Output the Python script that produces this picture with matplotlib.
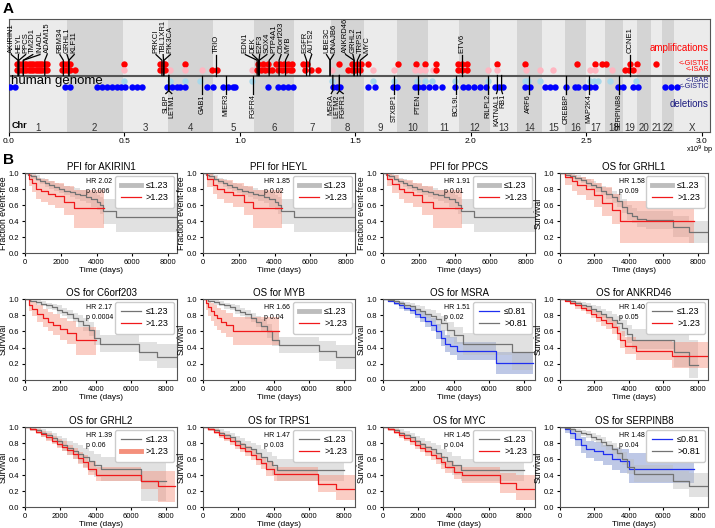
import numpy as np
import matplotlib.pyplot as plt
from matplotlib.lines import Line2D

plt.rcParams['font.family'] = ['Liberation Sans', 'DejaVu Sans']

# ---------------- panel A data ----------------
chrom_names = [str(i) for i in range(1, 23)] + ['X']
chrom_mb = [249.25, 243.20, 198.02, 191.15, 180.92, 171.12, 159.14, 146.36,
            141.21, 135.53, 135.01, 133.85, 115.17, 107.35, 102.53, 90.35,
            81.20, 78.08, 59.13, 63.03, 48.13, 51.30, 155.27]

# genome coordinate (x10^9 bp) of called regions
amp_gistic = [0.035, 0.045, 0.055, 0.065, 0.075, 0.085, 0.095, 0.105, 0.115, 0.125,
              0.135, 0.145, 0.155, 0.165, 0.229, 0.240, 0.252, 0.264, 0.498, 0.654,
              0.667, 0.675, 0.762, 1.078, 1.100, 1.121, 1.156, 1.173, 1.190, 1.208,
              1.225, 1.273, 1.290, 1.429, 1.485, 1.506, 1.524, 1.554, 1.684, 1.762,
              1.803, 1.851, 1.944, 1.961, 1.983, 2.113, 2.234, 2.459, 2.537, 2.567,
              2.584, 2.688, 2.719, 2.801]
amp_isar_hit = [0.035, 0.045, 0.055, 0.065, 0.075, 0.085, 0.095, 0.105, 0.115, 0.125,
                0.135, 0.145, 0.155, 0.165, 0.229, 0.240, 0.252, 0.264, 0.286, 0.654,
                0.667, 0.675, 0.879, 0.900, 1.074, 1.091, 1.108, 1.126, 1.139, 1.165,
                1.182, 1.199, 1.216, 1.225, 1.281, 1.307, 1.338, 1.468, 1.485, 1.500,
                1.519, 1.851, 1.944, 1.961, 1.983, 2.667, 2.684, 2.701]
amp_isar = [0.498, 0.697, 0.762, 0.835, 1.052, 1.398, 1.576, 1.667, 1.758, 1.779,
            1.801, 1.835, 2.074, 2.113, 2.238, 2.299, 2.355, 2.515, 2.537, 2.610, 2.719]
del_isar = [0.498, 0.697, 0.762, 0.827, 1.052, 1.398, 1.576, 1.667, 1.766, 1.801,
            1.831, 1.931, 2.074, 2.234, 2.247, 2.299, 2.515, 2.532, 2.550, 2.602, 2.714]
del_gistic = [0.004, 0.026, 0.242, 0.264, 0.381, 0.403, 0.424, 0.446, 0.468, 0.485,
              0.502, 0.532, 0.554, 0.576, 0.684, 0.706, 0.727, 0.740, 0.762, 0.857,
              0.883, 0.926, 0.948, 0.970, 0.978, 1.121, 1.165, 1.186, 1.208, 1.229,
              1.403, 1.420, 1.433, 1.554, 1.584, 1.662, 1.680, 1.758, 1.771, 1.792,
              1.818, 1.844, 1.874, 1.931, 1.965, 1.987, 2.013, 2.039, 2.065, 2.104,
              2.121, 2.139, 2.234, 2.255, 2.320, 2.342, 2.364, 2.411, 2.450, 2.463,
              2.494, 2.515, 2.537, 2.636, 2.658, 2.701, 2.723, 2.840, 2.866, 2.892]

amp_genes = ['AKIRIN1', 'HEYL', 'PPCS', 'TM2D1', 'INADL', 'ADAM15', 'RBM34', 'GRHL1',
             'KLF11', 'PRKCI', 'TBL1XR1', 'PIK3CA', 'TRIO', 'E2F3', 'SOX4', 'DEK',
             'EDN1', 'PTP4A1', 'C6orf203', 'MYB', 'EGFR', 'AUTS2', 'UBE3C', 'DNAJB6',
             'ANKRD46', 'GRHL2', 'TRPS1', 'MYC', 'ETV6', 'CCNE1']
amp_chrom = [1, 1, 1, 1, 1, 1, 1, 2, 2, 3, 3, 3, 5, 6, 6, 6, 6, 6, 6, 6, 7, 7, 7, 7,
             8, 8, 8, 8, 12, 19]
amp_mb = [39.4, 40.1, 42.9, 62.1, 62.3, 155.0, 235.3, 10.1, 10.2, 170.0, 176.8, 178.9,
          14.1, 20.4, 21.6, 18.2, 12.3, 64.3, 107.3, 135.2, 55.1, 69.1, 156.9, 157.1,
          101.5, 102.5, 116.4, 128.7, 11.8, 30.3]

del_genes = ['SLBP', 'LETM1', 'GAB1', 'MIER3', 'FGFR4', 'MSRA', 'FGFR1', 'LETM2',
             'STXBP1', 'PTEN', 'BCL9L', 'RILPL2', 'KATNAL1', 'RB1', 'ARF6', 'CREBBP',
             'MAP2K4', 'SERPINB8']
del_chrom = [4, 4, 4, 5, 5, 8, 8, 8, 9, 10, 11, 12, 13, 13, 14, 16, 17, 18]
del_mb = [1.69, 1.81, 144.2, 56.2, 176.5, 9.9, 38.3, 38.2, 130.4, 89.6, 118.8, 123.9,
          30.8, 48.9, 50.4, 3.8, 12.0, 61.6]

# ---------------- panel B data (Kaplan-Meier estimates) ----------------
pfi_low_t = [0, 150, 350, 600, 850, 1100, 1350, 1600, 1900, 2200, 2500, 2800, 3100, 3400, 3700, 4000, 4200, 4380, 5100, 8500]
pfi_low_s = [1.0, 0.98, 0.96, 0.93, 0.90, 0.87, 0.85, 0.83, 0.80, 0.78, 0.76, 0.74, 0.72, 0.70, 0.67, 0.64, 0.60, 0.52, 0.45, 0.45]
pfi_low_lo = [1.0, 0.96, 0.93, 0.90, 0.86, 0.83, 0.80, 0.78, 0.75, 0.72, 0.70, 0.67, 0.65, 0.62, 0.58, 0.54, 0.49, 0.36, 0.26, 0.26]
pfi_low_hi = [1.0, 1.0, 0.99, 0.97, 0.94, 0.92, 0.90, 0.88, 0.86, 0.84, 0.82, 0.81, 0.79, 0.78, 0.76, 0.73, 0.70, 0.67, 0.62, 0.62]

akirin1_t = [0, 200, 400, 600, 900, 1300, 1700, 2200, 2750, 4400]
akirin1_s = [1.0, 0.93, 0.87, 0.80, 0.77, 0.74, 0.71, 0.64, 0.56, 0.56]
akirin1_lo = [1.0, 0.84, 0.76, 0.68, 0.64, 0.60, 0.56, 0.48, 0.31, 0.31]
akirin1_hi = [1.0, 1.0, 0.98, 0.94, 0.92, 0.90, 0.88, 0.84, 0.79, 0.79]

heyl_t = [0, 250, 550, 800, 1200, 1700, 2300, 2800, 4400]
heyl_s = [1.0, 0.92, 0.85, 0.80, 0.76, 0.72, 0.64, 0.56, 0.56]
heyl_lo = [1.0, 0.83, 0.74, 0.68, 0.62, 0.57, 0.47, 0.31, 0.31]
heyl_hi = [1.0, 1.0, 0.96, 0.93, 0.91, 0.88, 0.84, 0.79, 0.79]

ppcs_t = [0, 200, 500, 900, 1200, 1700, 2200, 2800, 4400]
ppcs_s = [1.0, 0.93, 0.86, 0.80, 0.76, 0.72, 0.64, 0.56, 0.56]
ppcs_lo = [1.0, 0.84, 0.75, 0.68, 0.62, 0.57, 0.47, 0.31, 0.31]
ppcs_hi = [1.0, 1.0, 0.97, 0.93, 0.91, 0.88, 0.84, 0.79, 0.79]

grhl1_low_t = [0, 300, 600, 900, 1200, 1500, 1800, 2100, 2400, 2700, 3000, 3300, 3600, 3900, 4200, 4500, 5000, 6550, 7500, 8600]
grhl1_low_s = [1.0, 0.98, 0.96, 0.94, 0.91, 0.88, 0.85, 0.82, 0.78, 0.74, 0.70, 0.65, 0.58, 0.50, 0.46, 0.43, 0.41, 0.33, 0.26, 0.26]
grhl1_low_lo = [1.0, 0.96, 0.93, 0.90, 0.87, 0.83, 0.80, 0.76, 0.72, 0.67, 0.63, 0.57, 0.50, 0.41, 0.37, 0.33, 0.30, 0.20, 0.12, 0.12]
grhl1_low_hi = [1.0, 1.0, 0.99, 0.97, 0.95, 0.93, 0.90, 0.88, 0.84, 0.81, 0.78, 0.74, 0.67, 0.60, 0.56, 0.53, 0.52, 0.46, 0.40, 0.40]
grhl1_t = [0, 300, 700, 1000, 1500, 2000, 2450, 3050, 3500, 7800]
grhl1_s = [1.0, 0.95, 0.90, 0.85, 0.80, 0.72, 0.63, 0.54, 0.40, 0.40]
grhl1_lo = [1.0, 0.85, 0.78, 0.72, 0.66, 0.57, 0.46, 0.36, 0.12, 0.12]
grhl1_hi = [1.0, 1.0, 0.98, 0.95, 0.92, 0.87, 0.82, 0.74, 0.65, 0.65]

c6_low_t = [0, 300, 600, 900, 1200, 1500, 1800, 2100, 2400, 2700, 3000, 3300, 3600, 3900, 4250, 6450, 7450, 8600]
c6_low_s = [1.0, 0.98, 0.96, 0.94, 0.92, 0.90, 0.87, 0.84, 0.81, 0.77, 0.73, 0.68, 0.62, 0.52, 0.44, 0.35, 0.29, 0.29]
c6_low_lo = [1.0, 0.96, 0.93, 0.91, 0.88, 0.86, 0.82, 0.79, 0.75, 0.71, 0.66, 0.60, 0.54, 0.43, 0.34, 0.24, 0.15, 0.15]
c6_low_hi = [1.0, 1.0, 0.99, 0.97, 0.95, 0.94, 0.92, 0.89, 0.86, 0.83, 0.80, 0.76, 0.71, 0.62, 0.55, 0.47, 0.45, 0.45]
c6_t = [0, 200, 400, 700, 1000, 1300, 1600, 2000, 2400, 2900, 4000]
c6_s = [1.0, 0.93, 0.88, 0.82, 0.77, 0.72, 0.68, 0.63, 0.58, 0.49, 0.49]
c6_lo = [1.0, 0.85, 0.79, 0.72, 0.66, 0.61, 0.56, 0.50, 0.45, 0.31, 0.31]
c6_hi = [1.0, 1.0, 0.96, 0.92, 0.88, 0.84, 0.81, 0.77, 0.73, 0.66, 0.66]

myb_low_t = [0, 300, 600, 900, 1200, 1500, 1800, 2100, 2400, 2700, 3000, 3300, 3600, 3900, 4300, 6550, 7500, 8600]
myb_low_s = [1.0, 0.98, 0.96, 0.94, 0.92, 0.90, 0.87, 0.84, 0.81, 0.77, 0.72, 0.67, 0.60, 0.50, 0.43, 0.36, 0.28, 0.28]
myb_low_lo = [1.0, 0.96, 0.93, 0.91, 0.88, 0.86, 0.82, 0.79, 0.75, 0.71, 0.65, 0.59, 0.52, 0.42, 0.33, 0.24, 0.14, 0.14]
myb_low_hi = [1.0, 1.0, 0.99, 0.97, 0.95, 0.94, 0.92, 0.89, 0.86, 0.83, 0.79, 0.75, 0.69, 0.60, 0.53, 0.48, 0.43, 0.43]
myb_t = [0, 150, 300, 450, 600, 800, 1000, 1300, 1700, 4300]
myb_s = [1.0, 0.95, 0.90, 0.85, 0.80, 0.76, 0.72, 0.68, 0.60, 0.60]
myb_lo = [1.0, 0.86, 0.79, 0.73, 0.67, 0.62, 0.58, 0.53, 0.43, 0.43]
myb_hi = [1.0, 1.0, 0.98, 0.95, 0.92, 0.89, 0.86, 0.83, 0.78, 0.78]

msra_low_t = [0, 300, 600, 900, 1200, 1500, 1800, 2100, 2400, 2700, 3000, 3300, 3500, 3800, 4200, 6400, 8500]
msra_low_s = [1.0, 0.98, 0.95, 0.92, 0.89, 0.86, 0.82, 0.78, 0.73, 0.68, 0.60, 0.52, 0.45, 0.42, 0.36, 0.21, 0.21]
msra_low_lo = [1.0, 0.96, 0.92, 0.88, 0.85, 0.81, 0.77, 0.72, 0.66, 0.60, 0.51, 0.42, 0.35, 0.31, 0.25, 0.07, 0.07]
msra_low_hi = [1.0, 1.0, 0.98, 0.96, 0.93, 0.91, 0.88, 0.84, 0.80, 0.76, 0.69, 0.62, 0.56, 0.53, 0.47, 0.35, 0.35]
msra_t = [0, 300, 600, 900, 1200, 1500, 1800, 2100, 2400, 2700, 3000, 3300, 3600, 4000, 4500, 7300, 8500]
msra_s = [1.0, 0.99, 0.97, 0.95, 0.93, 0.91, 0.88, 0.85, 0.82, 0.79, 0.75, 0.70, 0.62, 0.55, 0.44, 0.34, 0.34]
msra_lo = [1.0, 0.97, 0.94, 0.92, 0.89, 0.86, 0.83, 0.79, 0.76, 0.72, 0.67, 0.61, 0.52, 0.44, 0.31, 0.12, 0.12]
msra_hi = [1.0, 1.0, 0.99, 0.98, 0.96, 0.95, 0.93, 0.91, 0.88, 0.86, 0.83, 0.79, 0.72, 0.66, 0.58, 0.58, 0.58]

ankrd46_low_t = [0, 300, 600, 900, 1200, 1500, 1800, 2100, 2400, 2700, 3000, 3300, 3600, 3900, 4200, 6600, 7500, 8000]
ankrd46_low_s = [1.0, 0.99, 0.97, 0.95, 0.93, 0.91, 0.88, 0.85, 0.82, 0.78, 0.74, 0.70, 0.64, 0.57, 0.50, 0.35, 0.19, 0.19]
ankrd46_low_lo = [1.0, 0.97, 0.94, 0.92, 0.89, 0.86, 0.83, 0.79, 0.76, 0.71, 0.66, 0.61, 0.54, 0.46, 0.38, 0.16, 0.02, 0.02]
ankrd46_low_hi = [1.0, 1.0, 0.99, 0.98, 0.96, 0.95, 0.93, 0.91, 0.88, 0.85, 0.82, 0.79, 0.74, 0.68, 0.63, 0.55, 0.50, 0.50]
ankrd46_t = [0, 300, 600, 900, 1200, 1500, 1800, 2100, 2400, 2700, 3000, 3300, 3500, 3800, 4400, 6500, 8600]
ankrd46_s = [1.0, 0.98, 0.95, 0.92, 0.89, 0.86, 0.82, 0.78, 0.74, 0.70, 0.65, 0.58, 0.50, 0.42, 0.36, 0.30, 0.30]
ankrd46_lo = [1.0, 0.96, 0.92, 0.88, 0.85, 0.81, 0.77, 0.72, 0.67, 0.63, 0.57, 0.49, 0.40, 0.32, 0.25, 0.15, 0.15]
ankrd46_hi = [1.0, 1.0, 0.98, 0.96, 0.93, 0.91, 0.88, 0.84, 0.81, 0.77, 0.73, 0.67, 0.60, 0.53, 0.48, 0.47, 0.47]

grhl2_low_t = [0, 300, 600, 900, 1200, 1500, 1800, 2100, 2400, 2700, 3000, 3300, 3600, 3900, 4300, 6550, 8000]
grhl2_low_s = [1.0, 0.98, 0.96, 0.93, 0.90, 0.86, 0.82, 0.78, 0.74, 0.70, 0.66, 0.62, 0.57, 0.52, 0.48, 0.32, 0.32]
grhl2_low_lo = [1.0, 0.96, 0.92, 0.88, 0.84, 0.80, 0.75, 0.70, 0.65, 0.60, 0.55, 0.50, 0.44, 0.38, 0.33, 0.08, 0.08]
grhl2_low_hi = [1.0, 1.0, 0.99, 0.97, 0.95, 0.92, 0.89, 0.86, 0.83, 0.80, 0.77, 0.74, 0.70, 0.66, 0.63, 0.72, 0.72]
grhl2_t = [0, 300, 600, 900, 1200, 1500, 1800, 2100, 2400, 2700, 3000, 3300, 3550, 4000, 6550, 7500, 8500]
grhl2_s = [1.0, 0.97, 0.94, 0.91, 0.87, 0.83, 0.79, 0.75, 0.71, 0.66, 0.61, 0.56, 0.48, 0.40, 0.32, 0.26, 0.26]
grhl2_lo = [1.0, 0.95, 0.91, 0.87, 0.83, 0.79, 0.74, 0.70, 0.65, 0.60, 0.54, 0.49, 0.40, 0.32, 0.22, 0.06, 0.06]
grhl2_hi = [1.0, 1.0, 0.97, 0.95, 0.92, 0.89, 0.85, 0.82, 0.78, 0.74, 0.69, 0.65, 0.57, 0.50, 0.45, 0.45, 0.45]

trps1_low_t = [0, 300, 600, 900, 1200, 1500, 1800, 2100, 2400, 2700, 3000, 3300, 3600, 3900, 4200, 8000]
trps1_low_s = [1.0, 0.98, 0.96, 0.93, 0.90, 0.87, 0.83, 0.79, 0.75, 0.72, 0.68, 0.63, 0.58, 0.52, 0.46, 0.46]
trps1_low_lo = [1.0, 0.96, 0.93, 0.89, 0.86, 0.82, 0.77, 0.72, 0.68, 0.64, 0.59, 0.53, 0.47, 0.40, 0.33, 0.33]
trps1_low_hi = [1.0, 1.0, 0.99, 0.97, 0.95, 0.92, 0.89, 0.86, 0.83, 0.80, 0.77, 0.73, 0.69, 0.64, 0.60, 0.60]
trps1_t = [0, 300, 600, 900, 1200, 1500, 1800, 2100, 2400, 2700, 3000, 3300, 3550, 4000, 6500, 7500, 8600]
trps1_s = [1.0, 0.97, 0.94, 0.90, 0.86, 0.82, 0.78, 0.74, 0.70, 0.65, 0.60, 0.55, 0.47, 0.41, 0.29, 0.23, 0.23]
trps1_lo = [1.0, 0.95, 0.91, 0.86, 0.82, 0.78, 0.73, 0.69, 0.64, 0.59, 0.53, 0.48, 0.39, 0.32, 0.19, 0.09, 0.09]
trps1_hi = [1.0, 1.0, 0.97, 0.94, 0.91, 0.87, 0.84, 0.80, 0.76, 0.72, 0.68, 0.63, 0.56, 0.50, 0.40, 0.40, 0.40]

myc_low_t = [0, 300, 600, 900, 1200, 1500, 1800, 2100, 2400, 2700, 3000, 3300, 3600, 3900, 4400, 8000]
myc_low_s = [1.0, 0.98, 0.96, 0.93, 0.90, 0.87, 0.83, 0.79, 0.75, 0.72, 0.68, 0.63, 0.58, 0.52, 0.46, 0.46]
myc_low_lo = [1.0, 0.96, 0.93, 0.89, 0.86, 0.82, 0.77, 0.72, 0.68, 0.64, 0.59, 0.53, 0.47, 0.40, 0.33, 0.33]
myc_low_hi = [1.0, 1.0, 0.99, 0.97, 0.95, 0.92, 0.89, 0.86, 0.83, 0.80, 0.77, 0.73, 0.69, 0.64, 0.60, 0.60]
myc_t = [0, 300, 600, 900, 1200, 1500, 1800, 2100, 2400, 2700, 3000, 3300, 3500, 4000, 4450, 6600, 7500, 8600]
myc_s = [1.0, 0.97, 0.94, 0.90, 0.86, 0.82, 0.78, 0.74, 0.70, 0.65, 0.61, 0.56, 0.50, 0.44, 0.40, 0.30, 0.23, 0.23]
myc_lo = [1.0, 0.95, 0.91, 0.86, 0.82, 0.78, 0.73, 0.69, 0.64, 0.59, 0.54, 0.48, 0.42, 0.35, 0.30, 0.18, 0.09, 0.09]
myc_hi = [1.0, 1.0, 0.97, 0.94, 0.91, 0.87, 0.84, 0.80, 0.76, 0.72, 0.68, 0.64, 0.58, 0.52, 0.50, 0.42, 0.40, 0.40]

serpinb8_t = [0, 300, 600, 900, 1200, 1500, 2000, 2500, 3000, 3500, 4000, 7800]
serpinb8_s = [1.0, 0.97, 0.92, 0.85, 0.78, 0.72, 0.70, 0.66, 0.60, 0.58, 0.48, 0.48]
serpinb8_lo = [1.0, 0.92, 0.85, 0.76, 0.68, 0.61, 0.58, 0.53, 0.46, 0.43, 0.30, 0.30]
serpinb8_hi = [1.0, 1.0, 0.98, 0.93, 0.88, 0.83, 0.81, 0.78, 0.74, 0.73, 0.67, 0.67]
serpinb8_low_t = [0, 300, 600, 900, 1200, 1500, 1800, 2100, 2400, 2700, 3000, 3300, 3600, 3900, 4300, 6550, 7500, 8600]
serpinb8_low_s = [1.0, 0.99, 0.97, 0.95, 0.93, 0.91, 0.88, 0.85, 0.81, 0.77, 0.73, 0.67, 0.60, 0.50, 0.41, 0.33, 0.26, 0.26]
serpinb8_low_lo = [1.0, 0.97, 0.94, 0.92, 0.89, 0.86, 0.83, 0.80, 0.75, 0.71, 0.66, 0.60, 0.52, 0.41, 0.31, 0.22, 0.12, 0.12]
serpinb8_low_hi = [1.0, 1.0, 0.99, 0.98, 0.96, 0.95, 0.93, 0.90, 0.87, 0.83, 0.80, 0.75, 0.69, 0.60, 0.52, 0.45, 0.42, 0.42]

titles = ['PFI for AKIRIN1', 'PFI for HEYL', 'PFI for PPCS', 'OS for GRHL1',
          'OS for C6orf203', 'OS for MYB', 'OS for MSRA', 'OS for ANKRD46',
          'OS for GRHL2', 'OS for TRPS1', 'OS for MYC', 'OS for SERPINB8']
hr_text = ['HR 2.02\np 0.006', 'HR 1.85\np 0.02', 'HR 1.91\np 0.01', 'HR 1.58\np 0.09',
           'HR 2.17\np 0.0004', 'HR 1.66\np 0.04', 'HR 1.51\np 0.02', 'HR 1.40\np 0.05',
           'HR 1.39\np 0.06', 'HR 1.47\np 0.03', 'HR 1.45\np 0.04', 'HR 1.48\np 0.04']
cutoffs = [1.23, 1.23, 1.23, 1.23, 1.23, 1.23, 0.81, 1.23, 1.23, 1.23, 1.23, 0.81]

GRAY, GRAY_F = '#737373', '#bdbdbd'
RED, RED_F = '#f0191b', '#f4907c'
BLUE, BLUE_F = '#1f2ff0', '#6f86c8'

# (t, s, lo, hi, line colour, fill colour) for first and second legend entry
curves = [
    [(pfi_low_t, pfi_low_s, pfi_low_lo, pfi_low_hi, GRAY, GRAY_F), (akirin1_t, akirin1_s, akirin1_lo, akirin1_hi, RED, RED_F)],
    [(pfi_low_t, pfi_low_s, pfi_low_lo, pfi_low_hi, GRAY, GRAY_F), (heyl_t, heyl_s, heyl_lo, heyl_hi, RED, RED_F)],
    [(pfi_low_t, pfi_low_s, pfi_low_lo, pfi_low_hi, GRAY, GRAY_F), (ppcs_t, ppcs_s, ppcs_lo, ppcs_hi, RED, RED_F)],
    [(grhl1_low_t, grhl1_low_s, grhl1_low_lo, grhl1_low_hi, GRAY, GRAY_F), (grhl1_t, grhl1_s, grhl1_lo, grhl1_hi, RED, RED_F)],
    [(c6_low_t, c6_low_s, c6_low_lo, c6_low_hi, GRAY, GRAY_F), (c6_t, c6_s, c6_lo, c6_hi, RED, RED_F)],
    [(myb_low_t, myb_low_s, myb_low_lo, myb_low_hi, GRAY, GRAY_F), (myb_t, myb_s, myb_lo, myb_hi, RED, RED_F)],
    [(msra_low_t, msra_low_s, msra_low_lo, msra_low_hi, BLUE, BLUE_F), (msra_t, msra_s, msra_lo, msra_hi, GRAY, GRAY_F)],
    [(ankrd46_low_t, ankrd46_low_s, ankrd46_low_lo, ankrd46_low_hi, GRAY, GRAY_F), (ankrd46_t, ankrd46_s, ankrd46_lo, ankrd46_hi, RED, RED_F)],
    [(grhl2_low_t, grhl2_low_s, grhl2_low_lo, grhl2_low_hi, GRAY, GRAY_F), (grhl2_t, grhl2_s, grhl2_lo, grhl2_hi, RED, RED_F)],
    [(trps1_low_t, trps1_low_s, trps1_low_lo, trps1_low_hi, GRAY, GRAY_F), (trps1_t, trps1_s, trps1_lo, trps1_hi, RED, RED_F)],
    [(myc_low_t, myc_low_s, myc_low_lo, myc_low_hi, GRAY, GRAY_F), (myc_t, myc_s, myc_lo, myc_hi, RED, RED_F)],
    [(serpinb8_t, serpinb8_s, serpinb8_lo, serpinb8_hi, BLUE, BLUE_F), (serpinb8_low_t, serpinb8_low_s, serpinb8_low_lo, serpinb8_low_hi, GRAY, GRAY_F)],
]
# which legend entry is drawn as a thick band
thick = [0, 0, 0, 0, None, 0, None, None, 1, None, None, None]


def spread(xs, gap, lo=0.0):
    # push overlapping labels apart, keeping clusters centred on their genes
    order = list(np.argsort(xs))
    groups = [[i] for i in order]
    moved = True
    while moved:
        moved = False
        for k in range(len(groups) - 1):
            a, b = groups[k], groups[k + 1]
            ca, cb = np.mean([xs[i] for i in a]), np.mean([xs[i] for i in b])
            ca = max(ca, lo + (len(a) - 1) * gap / 2)
            if (cb - (len(b) - 1) * gap / 2) - (ca + (len(a) - 1) * gap / 2) < gap:
                groups[k] = a + b
                groups.pop(k + 1)
                moved = True
                break
    out = np.zeros(len(xs))
    for g in groups:
        c = max(np.mean([xs[i] for i in g]), lo + (len(g) - 1) * gap / 2)
        for j, i in enumerate(g):
            out[i] = c + (j - (len(g) - 1) / 2) * gap
    return out


fig = plt.figure(figsize=(7.15, 5.28), dpi=100)

# ---------------- panel A ----------------
starts = np.concatenate([[0], np.cumsum(chrom_mb)[:-1]]) / 1000.0
lengths = np.array(chrom_mb) / 1000.0
axA = fig.add_axes([9 / 715, 1 - 132 / 528, 701 / 715, 113 / 528])
for i in range(len(chrom_names)):
    axA.axvspan(starts[i], starts[i] + lengths[i], color='#ebebeb' if i % 2 == 0 else '#d4d4d4', lw=0)
    axA.text(starts[i] + lengths[i] / 2, -0.93, chrom_names[i], ha='center', va='center', fontsize=7, color='#333333')
axA.text(0.012, -0.88, 'Chr', fontsize=6.5, fontweight='bold', va='center')
axA.axhline(0, color='#555555', lw=1.5, zorder=2)

ms = 4.6
axA.plot(amp_gistic, [0.2] * len(amp_gistic), 'o', color='#ff0000', ms=ms, mec='none', zorder=3)
axA.plot(amp_isar, [0.1] * len(amp_isar), 'o', color='#ffb6c1', ms=ms, mec='none', zorder=3)
axA.plot(amp_isar_hit, [0.1] * len(amp_isar_hit), 'o', color='#ff0000', ms=ms, mec='none', zorder=3)
axA.plot(del_isar, [-0.1] * len(del_isar), 'o', color='#a8d8ea', ms=ms, mec='none', zorder=3)
axA.plot(del_gistic, [-0.2] * len(del_gistic), 'o', color='#0000ff', ms=ms, mec='none', zorder=3)

amp_x = np.array([starts[c - 1] + m / 1000.0 for c, m in zip(amp_chrom, amp_mb)])
amp_lx = spread(amp_x, 0.031, lo=0.01)
for g, x, lx in zip(amp_genes, amp_x, amp_lx):
    axA.plot([x, x, lx], [0, 0.27, 0.37], color='black', lw=0.9, zorder=4)
    axA.text(lx, 0.39, g, rotation=90, ha='center', va='bottom', fontsize=5.5, zorder=5)

del_x = np.array([starts[c - 1] + m / 1000.0 for c, m in zip(del_chrom, del_mb)])
del_lx = spread(del_x, 0.026)
for g, x, lx in zip(del_genes, del_x, del_lx):
    axA.plot([x, x, lx], [0, -0.27, -0.32], color='black', lw=0.9, zorder=4)
    axA.text(lx, -0.33, g, rotation=90, ha='center', va='top', fontsize=5.2, zorder=5)

xr = sum(chrom_mb) / 1000.0
axA.text(xr - 0.005, 0.48, 'amplifications', color='#ff0000', ha='right', va='center', fontsize=7)
axA.text(xr - 0.005, 0.21, '<-GISTIC', color='#ff0000', ha='right', va='center', fontsize=5.2)
axA.text(xr - 0.005, 0.1, '<-ISAR', color='#ff0000', ha='right', va='center', fontsize=5.2)
axA.text(xr - 0.005, -0.09, '<-ISAR', color='#1c1c80', ha='right', va='center', fontsize=5.2)
axA.text(xr - 0.005, -0.2, '<-GISTIC', color='#1c1c80', ha='right', va='center', fontsize=5.2)
axA.text(xr - 0.005, -0.5, 'deletions', color='#1c1c80', ha='right', va='center', fontsize=7)
axA.text(0.01, -0.09, 'human genome', ha='left', va='center', fontsize=9.5, zorder=5)

axA.set_xlim(0, xr)
axA.set_ylim(-1, 1)
axA.set_yticks([])
axA.set_xticks([0, 0.5, 1.0, 1.5, 2.0, 2.5, 3.0])
axA.set_xticklabels(['0.0', '0.5', '1.0', '1.5', '2.0', '2.5', '3.0'])
axA.tick_params(axis='x', labelsize=6, length=3, pad=1)
for sp in axA.spines.values():
    sp.set_color('#555555')
fig.text(713 / 715, 1 - 150 / 528, 'x10$^{9}$ bp', ha='right', va='center', fontsize=5.2)

# ---------------- panel B ----------------
col_left = [25, 203, 383, 560]
col_right = [177, 355, 535, 708]
row_top = [173, 299, 427]
row_bot = [253, 380, 507]

for k in range(12):
    r, c = divmod(k, 4)
    ax = fig.add_axes([col_left[c] / 715, 1 - row_bot[r] / 528,
                       (col_right[c] - col_left[c]) / 715, (row_bot[r] - row_top[r]) / 528])
    handles = []
    for j, (t, s, lo, hi, lc, fc) in enumerate(curves[k]):
        ax.fill_between(t, lo, hi, step='post', color=fc, alpha=0.45, lw=0)
        ax.step(t, s, where='post', color=lc, lw=0.9)
        if thick[k] == j:
            handles.append(Line2D([], [], color=fc, lw=3.5))
        else:
            handles.append(Line2D([], [], color=lc, lw=0.9))
    cut = cutoffs[k]
    ax.legend(handles, ['\u2264%.2f' % cut, '>%.2f' % cut], loc='upper right', fontsize=6.5,
              handlelength=2.2, handletextpad=0.6, borderpad=0.6, labelspacing=0.35,
              framealpha=1, edgecolor='#cccccc', fancybox=True, borderaxespad=0.3)
    ax.text(0.40, 0.94, hr_text[k], transform=ax.transAxes, fontsize=5, va='top', ha='left',
            linespacing=1.7)
    ax.set_title(titles[k], fontsize=7, pad=2)
    ax.set_xlim(0, 8500 if k < 3 else 8600)
    ax.set_ylim(0, 1.0)
    ax.set_xticks([0, 2000, 4000, 6000, 8000])
    ax.set_yticks([0, 0.2, 0.4, 0.6, 0.8, 1.0])
    ax.set_yticklabels(['0.0', '0.2', '0.4', '0.6', '0.8', '1.0'])
    ax.tick_params(labelsize=5.5, length=2.5, pad=1.5)
    ax.set_xlabel('Time (days)', fontsize=6, labelpad=1)
    ax.set_ylabel('Fraction event-free' if k < 3 else 'Survival', fontsize=6.3, labelpad=1)
    for sp in ax.spines.values():
        sp.set_color('#555555')
        sp.set_linewidth(0.8)

fig.text(3 / 715, 1 - 9 / 528, 'A', fontsize=11, fontweight='bold', va='center')
fig.text(3 / 715, 1 - 160 / 528, 'B', fontsize=11, fontweight='bold', va='center')

fig.savefig('out.png', dpi=100)
